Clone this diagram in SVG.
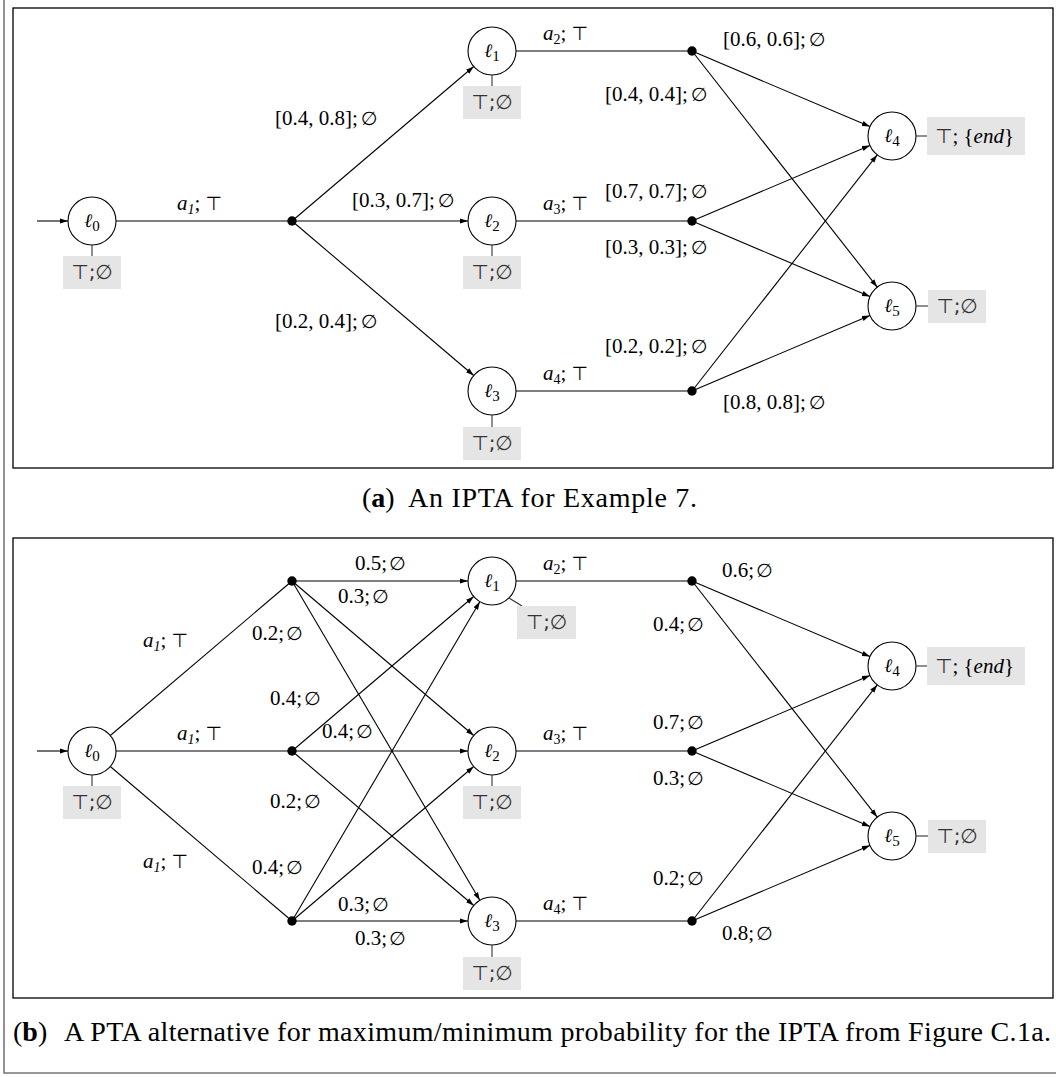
<svg xmlns="http://www.w3.org/2000/svg" width="1056" height="1077" viewBox="0 0 1056 1077">
<defs>
<marker id="ah" markerWidth="8" markerHeight="6" refX="8" refY="3" orient="auto" markerUnits="userSpaceOnUse"><path d="M0,0.4 L8,3 L0,5.6 z" fill="#000"/></marker>
<style>
.frame{fill:none;stroke:#000;stroke-width:1.3}
.outer{fill:none;stroke:#777;stroke-width:1.6}
.n{fill:#fff;stroke:#000;stroke-width:1.1}
.dot{fill:#000}
.e{stroke:#000;stroke-width:1.1;fill:none}
.a{stroke:#000;stroke-width:1.1;fill:none;marker-end:url(#ah)}
.tie{stroke:#333;stroke-width:1.1}
.box{fill:#e5e5e5}
.t{font-family:"Liberation Serif",serif;font-size:21px;fill:#000}
.ell{font-family:"DejaVu Serif",serif;font-style:italic;font-size:19px;fill:#000;text-anchor:middle}
.sub{font-family:"Liberation Serif",serif;font-style:normal;font-size:15px}
.s{font-family:"DejaVu Sans",sans-serif}
.bt{font-family:"DejaVu Sans",sans-serif;font-size:20px;fill:#333;text-anchor:middle}
.cap{font-family:"Liberation Serif",serif;font-size:28px;fill:#000}
</style>
</defs>
<rect width="1056" height="1077" fill="#fff"/>
<path class="outer" d="M4,0 V1073 H1056"/>
<rect class="frame" x="13" y="8" width="1040" height="460"/>
<rect class="frame" x="13" y="538" width="1040" height="460"/>

<text class="cap" x="362" y="507">(<tspan font-weight="bold">a</tspan>)</text>
<text class="cap" x="408" y="507" textLength="289" lengthAdjust="spacing">An IPTA for Example 7.</text>
<text class="cap" x="13" y="1041">(<tspan font-weight="bold">b</tspan>)</text>
<text class="cap" x="64" y="1041" textLength="987" lengthAdjust="spacing">A PTA alternative for maximum/minimum probability for the IPTA from Figure C.1a.</text>

<g id="connectors">
<!-- (a) -->
<line class="a" x1="37" y1="221" x2="68" y2="221"/>
<line class="e" x1="116" y1="221" x2="292" y2="221"/>
<line class="a" x1="292" y1="221" x2="473.7" y2="66.5"/>
<line class="a" x1="292" y1="221" x2="468" y2="221"/>
<line class="a" x1="292" y1="221" x2="473.7" y2="375.5"/>
<line class="e" x1="516" y1="51" x2="692" y2="51"/>
<line class="e" x1="516" y1="221" x2="692" y2="221"/>
<line class="e" x1="516" y1="391" x2="692" y2="391"/>
<line class="a" x1="692" y1="51" x2="869.9" y2="126.6"/>
<line class="a" x1="692" y1="51" x2="877.2" y2="287.1"/>
<line class="a" x1="692" y1="221" x2="869.9" y2="145.4"/>
<line class="a" x1="692" y1="221" x2="869.9" y2="296.6"/>
<line class="a" x1="692" y1="391" x2="877.2" y2="154.9"/>
<line class="a" x1="692" y1="391" x2="869.9" y2="315.4"/>
<!-- (b) -->
<line class="a" x1="37" y1="751" x2="68" y2="751"/>
<line class="e" x1="110.3" y1="735.5" x2="292" y2="581"/>
<line class="e" x1="116" y1="751" x2="292" y2="751"/>
<line class="e" x1="110.3" y1="766.5" x2="292" y2="921"/>
<line class="a" x1="292" y1="581" x2="468" y2="581"/>
<line class="a" x1="292" y1="581" x2="473.7" y2="735.5"/>
<line class="a" x1="292" y1="581" x2="479.8" y2="900.3"/>
<line class="a" x1="292" y1="751" x2="473.7" y2="596.5"/>
<line class="a" x1="292" y1="751" x2="468" y2="751"/>
<line class="a" x1="292" y1="751" x2="473.7" y2="905.5"/>
<line class="a" x1="292" y1="921" x2="479.8" y2="601.7"/>
<line class="a" x1="292" y1="921" x2="473.7" y2="766.5"/>
<line class="a" x1="292" y1="921" x2="468" y2="921"/>
<line class="e" x1="516" y1="581" x2="692" y2="581"/>
<line class="e" x1="516" y1="751" x2="692" y2="751"/>
<line class="e" x1="516" y1="921" x2="692" y2="921"/>
<line class="a" x1="692" y1="581" x2="869.9" y2="656.6"/>
<line class="a" x1="692" y1="581" x2="877.2" y2="817.1"/>
<line class="a" x1="692" y1="751" x2="869.9" y2="675.4"/>
<line class="a" x1="692" y1="751" x2="869.9" y2="826.6"/>
<line class="a" x1="692" y1="921" x2="877.2" y2="684.9"/>
<line class="a" x1="692" y1="921" x2="869.9" y2="845.4"/>

<!-- (a) labels -->
<text class="t" x="177" y="210"><tspan font-style="italic">a</tspan><tspan font-style="italic" font-size="14" dy="4">1</tspan><tspan dy="-4">; </tspan><tspan class="s" font-size="19">⊤</tspan></text>
<text class="t" x="543" y="40"><tspan font-style="italic">a</tspan><tspan font-size="14" dy="4">2</tspan><tspan dy="-4">; </tspan><tspan class="s" font-size="19">⊤</tspan></text>
<text class="t" x="543" y="210"><tspan font-style="italic">a</tspan><tspan font-size="14" dy="4">3</tspan><tspan dy="-4">; </tspan><tspan class="s" font-size="19">⊤</tspan></text>
<text class="t" x="543" y="380"><tspan font-style="italic">a</tspan><tspan font-size="14" dy="4">4</tspan><tspan dy="-4">; </tspan><tspan class="s" font-size="19">⊤</tspan></text>
<text class="t" x="275" y="125">[0.4, 0.8];<tspan class="s" dx="3" font-size="19">∅</tspan></text>
<text class="t" x="352" y="207">[0.3, 0.7];<tspan class="s" dx="3" font-size="19">∅</tspan></text>
<text class="t" x="275" y="328">[0.2, 0.4];<tspan class="s" dx="3" font-size="19">∅</tspan></text>
<text class="t" x="723" y="46">[0.6, 0.6];<tspan class="s" dx="3" font-size="19">∅</tspan></text>
<text class="t" x="605" y="101">[0.4, 0.4];<tspan class="s" dx="3" font-size="19">∅</tspan></text>
<text class="t" x="605" y="198">[0.7, 0.7];<tspan class="s" dx="3" font-size="19">∅</tspan></text>
<text class="t" x="605" y="254">[0.3, 0.3];<tspan class="s" dx="3" font-size="19">∅</tspan></text>
<text class="t" x="605" y="353">[0.2, 0.2];<tspan class="s" dx="3" font-size="19">∅</tspan></text>
<text class="t" x="723" y="409">[0.8, 0.8];<tspan class="s" dx="3" font-size="19">∅</tspan></text>

<!-- (b) labels -->
<text class="t" x="143" y="647"><tspan font-style="italic">a</tspan><tspan font-style="italic" font-size="14" dy="4">1</tspan><tspan dy="-4">; </tspan><tspan class="s" font-size="19">⊤</tspan></text>
<text class="t" x="177" y="740"><tspan font-style="italic">a</tspan><tspan font-style="italic" font-size="14" dy="4">1</tspan><tspan dy="-4">; </tspan><tspan class="s" font-size="19">⊤</tspan></text>
<text class="t" x="143" y="868"><tspan font-style="italic">a</tspan><tspan font-style="italic" font-size="14" dy="4">1</tspan><tspan dy="-4">; </tspan><tspan class="s" font-size="19">⊤</tspan></text>
<text class="t" x="543" y="570"><tspan font-style="italic">a</tspan><tspan font-size="14" dy="4">2</tspan><tspan dy="-4">; </tspan><tspan class="s" font-size="19">⊤</tspan></text>
<text class="t" x="543" y="740"><tspan font-style="italic">a</tspan><tspan font-size="14" dy="4">3</tspan><tspan dy="-4">; </tspan><tspan class="s" font-size="19">⊤</tspan></text>
<text class="t" x="543" y="910"><tspan font-style="italic">a</tspan><tspan font-size="14" dy="4">4</tspan><tspan dy="-4">; </tspan><tspan class="s" font-size="19">⊤</tspan></text>
<text class="t" x="355" y="570">0.5;<tspan class="s" dx="2" font-size="19">∅</tspan></text>
<text class="t" x="338" y="603">0.3;<tspan class="s" dx="2" font-size="19">∅</tspan></text>
<text class="t" x="252" y="640">0.2;<tspan class="s" dx="2" font-size="19">∅</tspan></text>
<text class="t" x="270" y="705">0.4;<tspan class="s" dx="2" font-size="19">∅</tspan></text>
<text class="t" x="322" y="738">0.4;<tspan class="s" dx="2" font-size="19">∅</tspan></text>
<text class="t" x="270" y="808">0.2;<tspan class="s" dx="2" font-size="19">∅</tspan></text>
<text class="t" x="252" y="874">0.4;<tspan class="s" dx="2" font-size="19">∅</tspan></text>
<text class="t" x="338" y="911">0.3;<tspan class="s" dx="2" font-size="19">∅</tspan></text>
<text class="t" x="355" y="945">0.3;<tspan class="s" dx="2" font-size="19">∅</tspan></text>
<text class="t" x="722" y="577">0.6;<tspan class="s" dx="2" font-size="19">∅</tspan></text>
<text class="t" x="653" y="631">0.4;<tspan class="s" dx="2" font-size="19">∅</tspan></text>
<text class="t" x="653" y="729">0.7;<tspan class="s" dx="2" font-size="19">∅</tspan></text>
<text class="t" x="653" y="785">0.3;<tspan class="s" dx="2" font-size="19">∅</tspan></text>
<text class="t" x="653" y="885">0.2;<tspan class="s" dx="2" font-size="19">∅</tspan></text>
<text class="t" x="722" y="940">0.8;<tspan class="s" dx="2" font-size="19">∅</tspan></text>
</g>

<!-- (a) nodes -->
<g id="a-l0"><circle class="n" cx="92" cy="221" r="24"/><text class="ell" x="92" y="227">ℓ<tspan class="sub" dy="4">0</tspan></text><line class="tie" x1="92" y1="245" x2="92" y2="256"/><rect class="box" x="63" y="256" width="58" height="33"/><text class="bt" x="92" y="279">⊤;∅</text></g>
<g id="a-l1"><circle class="n" cx="492" cy="51" r="24"/><text class="ell" x="492" y="57">ℓ<tspan class="sub" dy="4">1</tspan></text><line class="tie" x1="492" y1="75" x2="492" y2="86"/><rect class="box" x="463" y="86" width="58" height="33"/><text class="bt" x="492" y="109">⊤;∅</text></g>
<g id="a-l2"><circle class="n" cx="492" cy="221" r="24"/><text class="ell" x="492" y="227">ℓ<tspan class="sub" dy="4">2</tspan></text><line class="tie" x1="492" y1="245" x2="492" y2="256"/><rect class="box" x="463" y="256" width="58" height="33"/><text class="bt" x="492" y="279">⊤;∅</text></g>
<g id="a-l3"><circle class="n" cx="492" cy="391" r="24"/><text class="ell" x="492" y="397">ℓ<tspan class="sub" dy="4">3</tspan></text><line class="tie" x1="492" y1="415" x2="492" y2="427"/><rect class="box" x="463" y="427" width="58" height="33"/><text class="bt" x="492" y="450">⊤;∅</text></g>
<g id="a-l4"><circle class="n" cx="892" cy="136" r="24"/><text class="ell" x="892" y="142">ℓ<tspan class="sub" dy="4">4</tspan></text><line class="tie" x1="916" y1="136" x2="927" y2="136"/><rect class="box" x="927" y="117" width="98" height="38"/><text class="t" x="935" y="143" fill="#222"><tspan class="s" font-size="20" fill="#333">⊤</tspan>; {<tspan font-style="italic">end</tspan>}</text></g>
<g id="a-l5"><circle class="n" cx="892" cy="306" r="24"/><text class="ell" x="892" y="312">ℓ<tspan class="sub" dy="4">5</tspan></text><line class="tie" x1="916" y1="306" x2="928" y2="306"/><rect class="box" x="928" y="290" width="58" height="33"/><text class="bt" x="957" y="313">⊤;∅</text></g>
<g id="a-d0"><circle class="dot" cx="292" cy="221" r="4.7"/></g>
<g id="a-d1"><circle class="dot" cx="692" cy="51" r="4.7"/></g>
<g id="a-d2"><circle class="dot" cx="692" cy="221" r="4.7"/></g>
<g id="a-d3"><circle class="dot" cx="692" cy="391" r="4.7"/></g>

<!-- (b) nodes -->
<g id="b-l0"><circle class="n" cx="92" cy="751" r="24"/><text class="ell" x="92" y="757">ℓ<tspan class="sub" dy="4">0</tspan></text><line class="tie" x1="92" y1="775" x2="92" y2="786"/><rect class="box" x="63" y="786" width="58" height="33"/><text class="bt" x="92" y="809">⊤;∅</text></g>
<g id="b-l1"><circle class="n" cx="492" cy="581" r="24"/><text class="ell" x="492" y="587">ℓ<tspan class="sub" dy="4">1</tspan></text><line class="tie" x1="509" y1="598" x2="522" y2="606"/><rect class="box" x="517" y="606" width="59" height="33"/><text class="bt" x="546.5" y="629">⊤;∅</text></g>
<g id="b-l2"><circle class="n" cx="492" cy="751" r="24"/><text class="ell" x="492" y="757">ℓ<tspan class="sub" dy="4">2</tspan></text><line class="tie" x1="492" y1="775" x2="492" y2="786"/><rect class="box" x="463" y="786" width="58" height="33"/><text class="bt" x="492" y="809">⊤;∅</text></g>
<g id="b-l3"><circle class="n" cx="492" cy="921" r="24"/><text class="ell" x="492" y="927">ℓ<tspan class="sub" dy="4">3</tspan></text><line class="tie" x1="492" y1="945" x2="492" y2="957"/><rect class="box" x="463" y="957" width="58" height="33"/><text class="bt" x="492" y="980">⊤;∅</text></g>
<g id="b-l4"><circle class="n" cx="892" cy="666" r="24"/><text class="ell" x="892" y="672">ℓ<tspan class="sub" dy="4">4</tspan></text><line class="tie" x1="916" y1="666" x2="927" y2="666"/><rect class="box" x="927" y="647" width="98" height="38"/><text class="t" x="935" y="673" fill="#222"><tspan class="s" font-size="20" fill="#333">⊤</tspan>; {<tspan font-style="italic">end</tspan>}</text></g>
<g id="b-l5"><circle class="n" cx="892" cy="836" r="24"/><text class="ell" x="892" y="842">ℓ<tspan class="sub" dy="4">5</tspan></text><line class="tie" x1="916" y1="836" x2="928" y2="836"/><rect class="box" x="928" y="820" width="58" height="33"/><text class="bt" x="957" y="843">⊤;∅</text></g>
<g id="b-d0"><circle class="dot" cx="292" cy="581" r="4.7"/></g>
<g id="b-d1"><circle class="dot" cx="292" cy="751" r="4.7"/></g>
<g id="b-d2"><circle class="dot" cx="292" cy="921" r="4.7"/></g>
<g id="b-d3"><circle class="dot" cx="692" cy="581" r="4.7"/></g>
<g id="b-d4"><circle class="dot" cx="692" cy="751" r="4.7"/></g>
<g id="b-d5"><circle class="dot" cx="692" cy="921" r="4.7"/></g>
</svg>
